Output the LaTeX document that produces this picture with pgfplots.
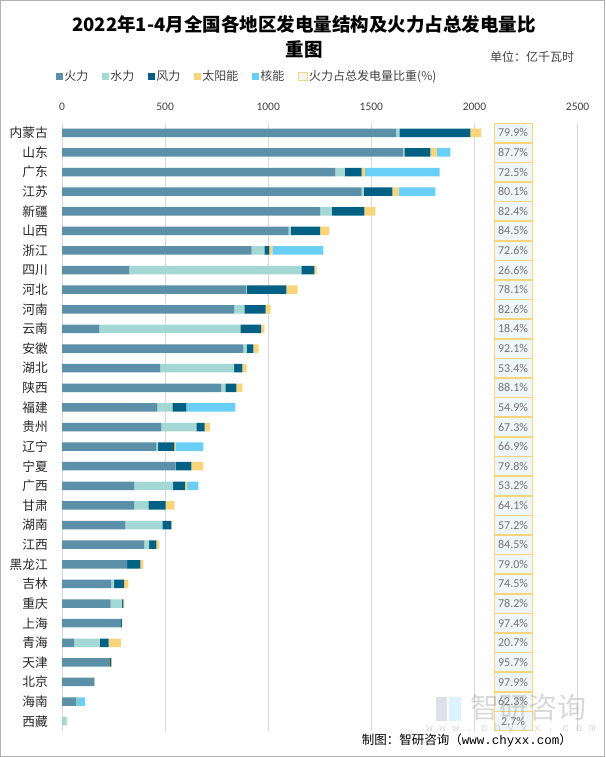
\documentclass[border=0pt]{standalone}
\usepackage{fontspec}
\usepackage{pgfplots}
\pgfplotsset{compat=1.18}
\usepackage{pgfplotstable}
\setmainfont{Noto Sans CJK SC}
\newfontfamily\carlito{Carlito}
\newfontfamily\lmono{Liberation Mono}
\definecolor{cfire}{HTML}{5B90A8}
\definecolor{chydro}{HTML}{A3D8D4}
\definecolor{cwind}{HTML}{006184}
\definecolor{csolar}{HTML}{F8D47A}
\definecolor{cnuc}{HTML}{6ACFF6}
\definecolor{cbox}{HTML}{EEF6F8}
\definecolor{cgrid}{HTML}{D9D9D9}
\definecolor{ctext}{HTML}{404040}

\pgfplotstableread{
idx fire hydro wind solar nuc pct bx
0 1621 15 344 54 0 79.9 2187
1 1653 7 126 30 67 87.7 2187
2 1325 45 83 15 363 72.5 2187
3 1453 9 140 30 178 80.1 2187
4 1252 55 159 54 0 82.4 2187
5 1099 9 144 45 0 84.5 2187
6 919 62 24 15 247 72.6 2187
7 326 835 63 10 0 26.6 2187
8 891 4 193 54 0 78.1 2187
9 835 49 103 24 0 82.6 2187
10 180 685 101 15 0 18.4 2187
11 880 15 33 25 0 92.1 2187
12 477 358 39 21 0 53.4 2187
13 773 19 54 28 0 88.1 2187
14 462 73 68 0 238 54.9 2187
15 481 170 40 26 0 67.3 2187
16 457 9 79 7 133 66.9 2187
17 547 3 77 58 0 79.8 2187
18 350 189 58 10 54 53.2 2187
19 350 69 83 43 0 64.1 2187
20 307 180 43 4 0 57.2 2187
21 399 24 34 15 0 84.5 2187
22 314 2 64 15 0 79.0 2187
23 240 13 48 21 0 74.5 2187
24 236 55 7 4 0 78.2 2187
25 286 0 4 2 0 97.4 2187
26 59 124 43 60 0 20.7 2187
27 232 0 6 4 0 95.7 2187
28 157 0 0 3 0 97.9 2187
29 69 4 1 3 34 62.3 2187
30 0.7 22 0 3 0 2.7 2187
}\data

\pgfplotsset{
  sqleg/.style={legend image code/.code={\fill[##1] (0pt,-3.5pt) rectangle (7pt,3.5pt);}},
}

\begin{document}
\begin{tikzpicture}
\path[use as bounding box] (0pt,0pt) rectangle (605pt,-757pt);
\draw[gray!60, line width=0.8pt] (0.6pt,-0.6pt) rectangle (604.4pt,-756.4pt);

\node[font=\bfseries\fontsize{18.5}{18.5}\selectfont] at (304pt,-24pt) {2022年1-4月全国各地区发电量结构及火力占总发电量比};
\node[font=\bfseries\fontsize{18.5}{18.5}\selectfont] at (304pt,-49pt) {重图};
\node[anchor=west, font=\fontsize{12}{12}\selectfont, text=ctext, inner sep=0pt] at (490pt,-57pt) {单位：亿千瓦时};

\begin{axis}[
  at={(62pt,-123pt)}, anchor=north west,
  width=515.6pt, height=608pt, scale only axis,
  xbar stacked, bar width=8.5pt,
  xmin=0, xmax=2500, ymin=-0.5, ymax=30.5, y dir=reverse,
  axis x line*=top, axis y line*=left,
  axis line style={draw=none},
  xtick={0,500,1000,1500,2000,2500},
  ytick={0,...,30},
  yticklabels={内蒙古,山东,广东,江苏,新疆,山西,浙江,四川,河北,河南,云南,安徽,湖北,陕西,福建,贵州,辽宁,宁夏,广西,甘肃,湖南,江西,黑龙江,吉林,重庆,上海,青海,天津,北京,海南,西藏},
  major tick length=0pt,
  xmajorgrids, major grid style={cgrid, line width=0.8pt},
  x tick label style={font=\carlito\fontsize{11.5}{11.5}\selectfont, text=ctext, inner sep=0pt, yshift=12pt,
     /pgf/number format/assume math mode=true, /pgf/number format/set thousands separator={}},
  y tick label style={font=\fontsize{12.7}{12.7}\selectfont, text=black!85, inner sep=0pt, xshift=-14pt},
  scaled x ticks=false,
  legend style={at={(-0.018,1.0773)}, anchor=west, draw=none, fill=none,
    legend columns=6, font=\fontsize{12}{12}\selectfont, text=ctext,
    nodes={inner xsep=0.5pt, inner ysep=0pt},
    /tikz/every odd column/.append style={column sep=1pt},
    /tikz/every even column/.append style={column sep=13pt}},
]
\addplot[fill=cfire, draw=none, sqleg] table[x=fire, y=idx]{\data};
\addlegendentry{火力}
\addplot[fill=chydro, draw=none, sqleg] table[x=hydro, y=idx]{\data};
\addlegendentry{水力}
\addplot[fill=cwind, draw=none, sqleg] table[x=wind, y=idx]{\data};
\addlegendentry{风力}
\addplot[fill=csolar, draw=none, sqleg] table[x=solar, y=idx]{\data};
\addlegendentry{太阳能}
\addplot[fill=cnuc, draw=none, sqleg] table[x=nuc, y=idx]{\data};
\addlegendentry{核能}
\addlegendimage{legend image code/.code={\draw[draw=csolar, fill=cbox, line width=0.8pt] (0pt,-4pt) rectangle (9pt,4pt);}}
\addlegendentry{火力占总发电量比重(\%)}
\end{axis}

\begin{axis}[
  at={(62pt,-123pt)}, anchor=north west,
  width=515.6pt, height=608pt, scale only axis,
  xmin=0, xmax=2500, ymin=-0.5, ymax=30.5, y dir=reverse,
  hide axis,
]
\addplot[draw=none, mark=none, point meta=explicit,
  nodes near coords={\pgfmathprintnumber[fixed,fixed zerofill,precision=1,assume math mode=true]{\pgfplotspointmeta}\%},
  nodes near coords style={anchor=center, draw=csolar, fill=cbox, line width=0.8pt,
    minimum width=38pt, minimum height=19pt, inner sep=0pt, text=gray!90!black,
    font=\carlito\fontsize{12}{12}\selectfont}]
  table[x=bx, y=idx, meta=pct]{\data};
\end{axis}

% watermark (semi-transparent, over the chart as in the reference)
\fill[blue!20!gray!40, opacity=0.5] (436pt,-697pt) rectangle (447pt,-721pt);
\fill[cnuc!50, opacity=0.5] (449pt,-697pt) rectangle (461pt,-721pt);
\node[font=\fontsize{29}{29}\selectfont, text=gray, opacity=0.3, inner sep=0pt] at (528pt,-708pt) {智研咨询};
\node[font=\lmono\fontsize{11}{11}\selectfont, text=gray, opacity=0.3, inner sep=0pt] at (511pt,-729pt) {w w w . c h y x x . c o m};

\node[anchor=east, font=\fontsize{12.5}{12.5}\selectfont, inner sep=0pt] at (572pt,-740pt) {制图：智研咨询（{\lmono www.chyxx.com}）};
\end{tikzpicture}
\end{document}
